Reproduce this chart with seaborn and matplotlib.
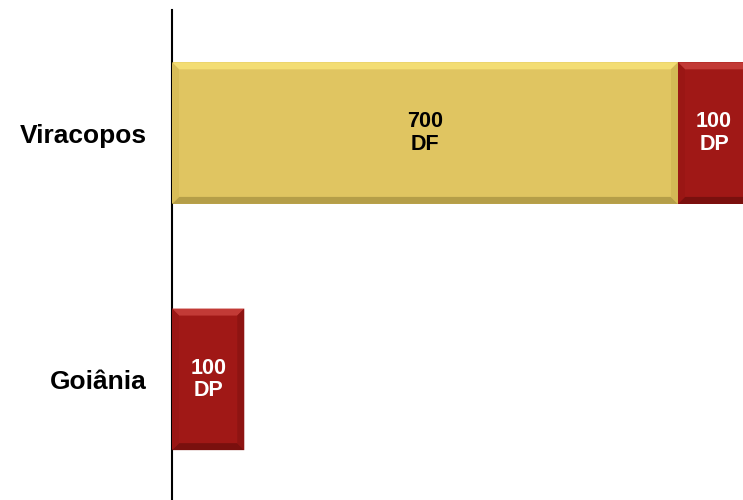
import matplotlib
matplotlib.use("Agg")
import matplotlib.pyplot as plt
import seaborn as sns
import pandas as pd
from matplotlib.patches import Polygon

categories = ["Viracopos", "Goiânia"]
df_values = [700, 0]
dp_values = [100, 100]
df_labels = ["700\nDF", ""]
dp_labels = ["100\nDP", "100\nDP"]

YELLOW = "#E0C561"
RED = "#A01816"

sns.set_theme(style="white")
plt.rcParams['font.family'] = ['Liberation Sans', 'DejaVu Sans']

data = pd.DataFrame({"cat": categories, "DF": df_values, "DP": dp_values})
data["total"] = data["DF"] + data["DP"]

fig = plt.figure(figsize=(7.43, 5.0), dpi=100)
ax = fig.add_axes([172/743, 0.0, 1 - 172/743, 0.98])

sns.barplot(data=data, y="cat", x="total", color=RED, orient="h",
            width=0.575, ax=ax, saturation=1, edgecolor="none")
n_red = len(ax.patches)
sns.barplot(data=data, y="cat", x="DF", color=YELLOW, orient="h",
            width=0.575, ax=ax, saturation=1, edgecolor="none")

red_patches = ax.patches[:n_red]
yel_patches = ax.patches[n_red:n_red + len(categories)]

ax.set_xlim(0, 790)
ax.set_ylim(1.49, -0.5)

PX_X = 571 / 790.0
PX_Y = 246.0

def bevel(x0, y0, w, h, light, dark, side_l, side_r):
    if w <= 0:
        return
    dx = 7 / PX_X
    dy = 7 / PX_Y
    x1, y1 = x0 + w, y0 + h
    ax.add_patch(Polygon([(x0, y0), (x1, y0), (x1 - dx, y0 + dy), (x0 + dx, y0 + dy)],
                         closed=True, facecolor=light, edgecolor="none", zorder=3))
    ax.add_patch(Polygon([(x0, y1), (x1, y1), (x1 - dx, y1 - dy), (x0 + dx, y1 - dy)],
                         closed=True, facecolor=dark, edgecolor="none", zorder=3))
    ax.add_patch(Polygon([(x0, y0), (x0 + dx, y0 + dy), (x0 + dx, y1 - dy), (x0, y1)],
                         closed=True, facecolor=side_l, edgecolor="none", zorder=3))
    ax.add_patch(Polygon([(x1, y0), (x1 - dx, y0 + dy), (x1 - dx, y1 - dy), (x1, y1)],
                         closed=True, facecolor=side_r, edgecolor="none", zorder=3))

for i, p in enumerate(red_patches):
    dfv = df_values[i]
    bevel(dfv, p.get_y(), dp_values[i], p.get_height(),
          "#C23A36", "#7A100E", "#9A1614", "#8E1412")
    ax.text(dfv + dp_values[i] / 2, p.get_y() + p.get_height() / 2, dp_labels[i],
            ha="center", va="center", color="white", fontsize=15.5,
            fontweight="bold", linespacing=1.1, zorder=5)

for i, p in enumerate(yel_patches):
    if p.get_width() > 0:
        bevel(p.get_x(), p.get_y(), p.get_width(), p.get_height(),
              "#F3DD73", "#B59E48", "#D8BD58", "#D3B855")
        ax.text(p.get_x() + p.get_width() / 2, p.get_y() + p.get_height() / 2, df_labels[i],
                ha="center", va="center", color="black", fontsize=15.5,
                fontweight="bold", linespacing=1.1, zorder=5)

ax.set_xlabel("")
ax.set_ylabel("")
ax.set_xticks([])
ax.tick_params(axis="y", length=0, pad=18)
for lab in ax.get_yticklabels():
    lab.set_fontsize(19)
    lab.set_fontweight("bold")
    lab.set_color("black")

for s in ["top", "right", "bottom"]:
    ax.spines[s].set_visible(False)
ax.spines["left"].set_color("black")
ax.spines["left"].set_linewidth(1.5)
ax.grid(False)

fig.savefig("out.png", dpi=100)
